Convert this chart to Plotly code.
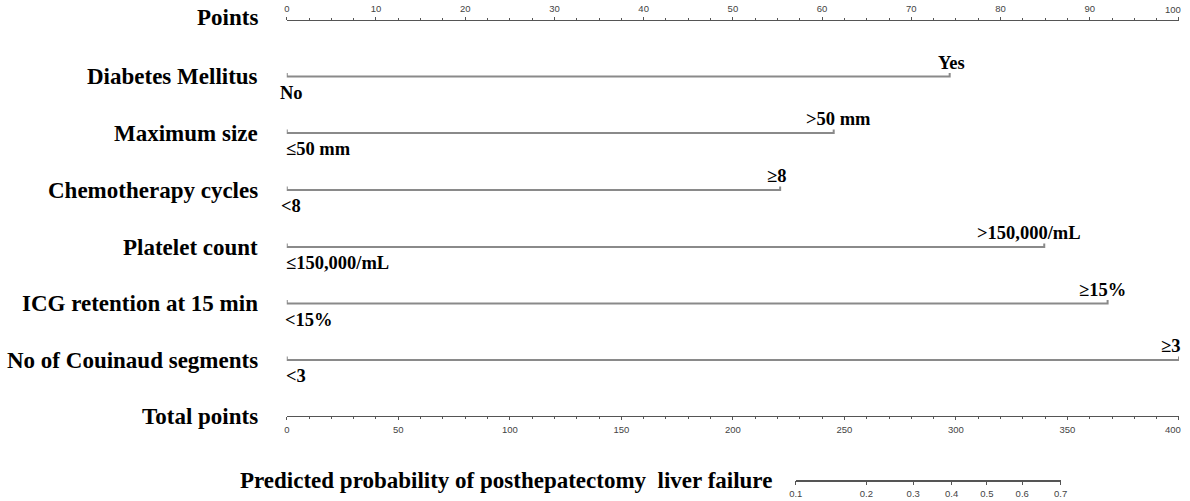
import math
import plotly.graph_objects as go

# ---------------- data ----------------
VARIABLES = ["Diabetes Mellitus", "Maximum size", "Chemotherapy cycles", "Platelet count",
             "ICG retention at 15 min", "No of Couinaud segments"]
LOW_LEVELS = ["No", "≤50 mm", "<8", "≤150,000/mL", "<15%", "<3"]
HIGH_LEVELS = ["Yes", ">50 mm", "≥8", ">150,000/mL", "≥15%", "≥3"]
HIGH_POINTS = [74.3, 61.3, 55.3, 84.9, 92.0, 100.0]
LOW_POINTS = [0, 0, 0, 0, 0, 0]

POINTS_RANGE = [0, 100]
POINTS_TICKS = [0, 10, 20, 30, 40, 50, 60, 70, 80, 90, 100]
TOTAL_RANGE = [0, 400]
TOTAL_TICKS = [0, 50, 100, 150, 200, 250, 300, 350, 400]
PROB_TICKS = [0.1, 0.2, 0.3, 0.4, 0.5, 0.6, 0.7]
PROB_TICK_LABELS = ["0.1", "0.2", "0.3", "0.4", "0.5", "0.6", "0.7"]
# total points = PROB_INTERCEPT + PROB_SLOPE * logit(p)
PROB_INTERCEPT = 313.9
PROB_SLOPE = 39.0

POINTS_TITLE = "Points"
TOTAL_TITLE = "Total points"
PROB_TITLE = "Predicted probability of posthepatectomy  liver failure"

# ---------------- layout / style constants ----------------
W, H = 1190, 501
BODY = 0                 # body margin removed by post_script
SX, BX = 0.988, 6.3      # observed horizontal mapping page -> picture
X0_PX, X1_PX = 286, 1178
POINTS_Y = 19.5
ROW_Y = [76.5, 133, 190, 247, 303.5, 360]
TOTAL_Y = 416
PROB_Y = 480.5
LABEL_RIGHT_PX = 259
HIGH_XSHIFT = [2, 5, -4, -15, -5, -8]
LOW_XSHIFT = [-9, -3, -8, -3, -4, -3]

SERIF = "Liberation Serif, Times New Roman, serif"
SANS = "Liberation Sans, Arial, sans-serif"
LINE_COL = "#8a8a8a"
AXIS_COL = "#555555"
TICKFONT = dict(family=SANS, size=9.5, color="#444444")
LABEL_FONT = dict(family=SERIF, size=23, color="black", weight="bold")
LEVEL_FONT = dict(family=SERIF, size=18.5, color="black", weight="bold")


def logit(p):
    return math.log(p / (1 - p))


def xpaper(px):
    return ((px - BX) / SX - BODY) / W


def ypos(px):
    return 1 - (px - BODY) / H


dom = [xpaper(X0_PX), xpaper(X1_PX)]
lg = [logit(p) for p in PROB_TICKS]
tot_lo = PROB_INTERCEPT + PROB_SLOPE * lg[0]
tot_hi = PROB_INTERCEPT + PROB_SLOPE * lg[-1]
span = TOTAL_RANGE[1] - TOTAL_RANGE[0]
prob_dom = [dom[0] + (tot_lo - TOTAL_RANGE[0]) / span * (dom[1] - dom[0]),
            dom[0] + (tot_hi - TOTAL_RANGE[0]) / span * (dom[1] - dom[0])]

fig = go.Figure()

TICK_UP = 3.5
for lo, hi, y in zip(LOW_POINTS, HIGH_POINTS, ROW_Y):
    fig.add_trace(go.Scatter(
        x=[lo, lo, hi, hi], y=[y - TICK_UP, y, y, y - TICK_UP],
        mode="lines", line=dict(color=LINE_COL, width=2),
        hoverinfo="skip", showlegend=False, xaxis="x", yaxis="y"))

fig.add_trace(go.Scatter(x=TOTAL_RANGE, y=[TOTAL_Y, TOTAL_Y], mode="markers",
                         marker=dict(opacity=0), hoverinfo="skip", showlegend=False,
                         xaxis="x2", yaxis="y"))
fig.add_trace(go.Scatter(x=[lg[0], lg[-1]], y=[0.5, 0.5], mode="markers",
                         marker=dict(opacity=0), hoverinfo="skip", showlegend=False,
                         xaxis="x3", yaxis="y3"))

annotations = []
for name, y in zip([POINTS_TITLE] + VARIABLES + [TOTAL_TITLE], [POINTS_Y - 2] + ROW_Y + [TOTAL_Y]):
    annotations.append(dict(text=name, xref="paper", yref="y", x=xpaper(LABEL_RIGHT_PX), y=y,
                            xanchor="right", yanchor="middle", showarrow=False, font=LABEL_FONT))
annotations.append(dict(text=PROB_TITLE, xref="paper", yref="y", x=xpaper(773), y=PROB_Y,
                        xanchor="right", yanchor="middle", showarrow=False, font=LABEL_FONT))
for i, (lo, hi, lab_lo, lab_hi, y) in enumerate(zip(LOW_POINTS, HIGH_POINTS, LOW_LEVELS,
                                                    HIGH_LEVELS, ROW_Y)):
    annotations.append(dict(text=lab_hi, xref="x", yref="y", x=hi, y=y - 14, xshift=HIGH_XSHIFT[i],
                            xanchor="center", yanchor="middle", showarrow=False, font=LEVEL_FONT))
    annotations.append(dict(text=lab_lo, xref="x", yref="y", x=lo, y=y + 16, xshift=LOW_XSHIFT[i],
                            xanchor="left", yanchor="middle", showarrow=False, font=LEVEL_FONT))

# last tick labels at the right edge, right-aligned so they stay inside the page
annotations.append(dict(text=str(POINTS_TICKS[-1]), xref="x", yref="y", x=POINTS_TICKS[-1],
                        y=POINTS_Y - 10.5, xshift=4, xanchor="right", yanchor="middle",
                        showarrow=False, font=TICKFONT))
annotations.append(dict(text=str(TOTAL_TICKS[-1]), xref="x2", yref="y", x=TOTAL_TICKS[-1],
                        y=TOTAL_Y + 13.5, xshift=4, xanchor="right", yanchor="middle",
                        showarrow=False, font=TICKFONT))

fig.update_layout(
    width=W, height=H, margin=dict(l=0, r=0, t=0, b=0),
    paper_bgcolor="white", plot_bgcolor="rgba(0,0,0,0)",
    showlegend=False,
    xaxis=dict(domain=dom, range=POINTS_RANGE, anchor="free", position=ypos(POINTS_Y),
               side="top", showline=True, linecolor=AXIS_COL, linewidth=1,
               ticks="outside", ticklen=3, tickcolor=AXIS_COL, tickwidth=1,
               tickmode="array", tickvals=POINTS_TICKS,
               ticktext=[str(v) for v in POINTS_TICKS[:-1]] + [""],
               ticklabelstandoff=1,
               tickfont=TICKFONT, showgrid=False, zeroline=False,
               minor=dict(dtick=2.5, tick0=0, ticks="outside", ticklen=2, tickcolor=AXIS_COL,
                          showgrid=False),
               fixedrange=True),
    xaxis2=dict(overlaying="x", range=TOTAL_RANGE, anchor="free", position=ypos(TOTAL_Y),
                side="bottom", showline=True, linecolor=AXIS_COL, linewidth=1,
                ticks="outside", ticklen=3, tickcolor=AXIS_COL, tickwidth=1,
                tickmode="array", tickvals=TOTAL_TICKS,
                ticktext=[str(v) for v in TOTAL_TICKS[:-1]] + [""],
                ticklabelstandoff=2,
                tickfont=TICKFONT, showgrid=False, zeroline=False,
                minor=dict(dtick=10, tick0=0, ticks="outside", ticklen=2, tickcolor=AXIS_COL,
                           showgrid=False),
                fixedrange=True),
    xaxis3=dict(domain=prob_dom, range=[lg[0], lg[-1]], anchor="free", position=ypos(PROB_Y),
                side="bottom", showline=True, linecolor=AXIS_COL, linewidth=1.5,
                ticks="outside", ticklen=4, tickcolor=AXIS_COL, tickwidth=1,
                tickmode="array", tickvals=lg, ticktext=PROB_TICK_LABELS,
                tickfont=TICKFONT, showgrid=False, zeroline=False, fixedrange=True),
    yaxis=dict(domain=[0, 1], range=[BODY + H, BODY], visible=False, fixedrange=True),
    yaxis3=dict(domain=[0, 1], range=[0, 1], visible=False, anchor="x3", fixedrange=True),
    annotations=annotations,
)

fig.write_html("out.html", config={"displayModeBar": False},
               post_script="document.body.style.margin='0';document.body.style.overflow='hidden';")
